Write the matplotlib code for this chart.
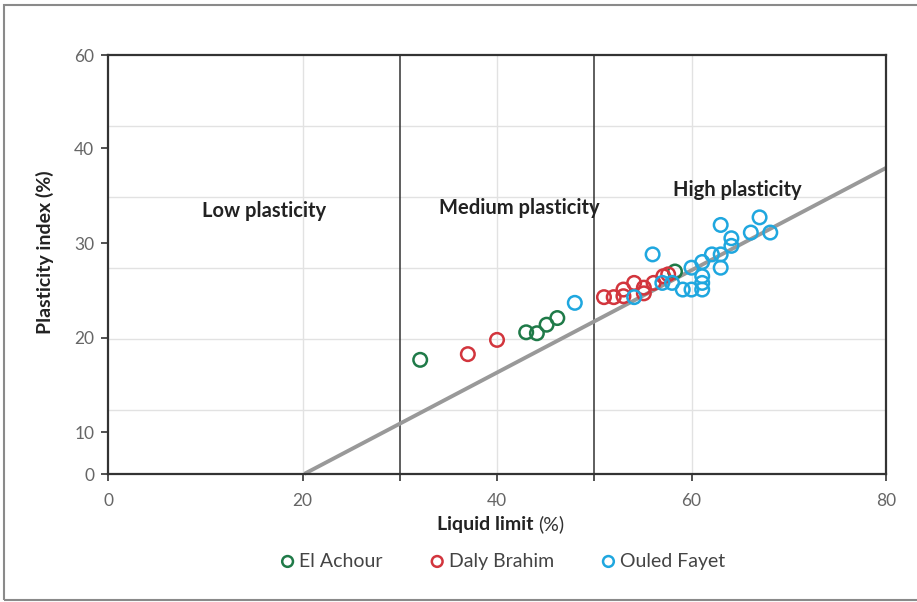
import matplotlib.pyplot as plt
from matplotlib.patches import Rectangle

# Liquid limit (%) / plasticity index (%)
el_achour_ll = [32.1, 43.0, 44.1, 45.1, 46.2, 58.3]
el_achour_pi = [17.7, 20.6, 20.5, 21.4, 22.1, 27.0]

daly_brahim_ll = [37.0, 40.0, 51.0, 52.0, 53.0, 53.0, 54.1, 55.1, 55.1, 56.1, 57.1, 57.6]
daly_brahim_pi = [18.3, 19.8, 24.3, 24.3, 25.1, 24.4, 25.8, 25.3, 24.7, 25.8, 26.5, 26.7]

ouled_fayet_ll = [48.0, 54.1, 56.0, 57.0, 58.0, 59.1, 60.0, 60.0, 61.1, 61.1, 61.1, 61.1,
                  62.1, 63.0, 63.0, 63.0, 64.1, 64.1, 66.1, 67.0, 68.1]
ouled_fayet_pi = [23.7, 24.3, 28.8, 25.8, 25.8, 25.1, 25.1, 27.4, 28.0, 26.5, 25.8, 25.1,
                  28.8, 28.8, 27.4, 31.9, 30.5, 29.7, 31.1, 32.7, 31.1]

# A-line as drawn
a_line_ll = [20.2, 80.0]
a_line_pi = [5.7, 37.9]

# y axis of the original is not uniform: tick labels sit at these heights
ytick_pos = [5.68, 10.1, 20, 30, 40, 49.79]
ytick_labels = ['0', '10', '20', '30', '40', '60']
xtick_pos = [0, 20, 30, 40, 50, 60, 80]
xtick_labels = ['0', '20', '', '40', '', '60', '80']
hgrid = [12.42, 19.9, 27.37, 34.84, 42.3]

zones = ['Low plasticity', 'Medium plasticity', 'High plasticity']
zone_x = [16.0, 42.3, 64.7]
zone_y = [33.4, 33.7, 35.6]

green = '#1f7a48'
red = '#d2353d'
blue = '#1fa7df'

plt.rcParams['font.family'] = ['Lato', 'DejaVu Sans']

fig = plt.figure(figsize=(9.17, 6.02), dpi=100)
ax = fig.add_axes([0.1178, 0.2126, 0.8484, 0.696])

# frame around the whole picture
fig.patches.append(Rectangle((0.004, 0.004), 1.1, 0.988, transform=fig.transFigure,
                             fill=False, edgecolor='#8a8a8a', linewidth=1.5))

for y in hgrid:
    ax.axhline(y, color='#e2e2e2', lw=1.0, zorder=0)
for x in [20, 40, 60]:
    ax.axvline(x, color='#e2e2e2', lw=1.0, zorder=0)
for x in [30, 50]:
    ax.axvline(x, color='#333333', lw=1.1, zorder=1)

ax.plot(a_line_ll, a_line_pi, color='#999999', lw=2.8, solid_capstyle='butt', zorder=2, clip_on=False)

ms = 95
ax.scatter(el_achour_ll, el_achour_pi, s=ms, facecolors='none', edgecolors=green, linewidths=1.8, zorder=3)
ax.scatter(daly_brahim_ll, daly_brahim_pi, s=ms, facecolors='none', edgecolors=red, linewidths=1.8, zorder=4)
ax.scatter(ouled_fayet_ll, ouled_fayet_pi, s=ms, facecolors='none', edgecolors=blue, linewidths=1.8, zorder=5)

for name, x, y in zip(zones, zone_x, zone_y):
    ax.text(x, y, name, ha='center', va='center', fontsize=14.5, fontweight='bold', color='#222222')

ax.set_xlim(0, 80)
ax.set_ylim(ytick_pos[0], ytick_pos[-1])
ax.set_xticks(xtick_pos)
ax.set_xticklabels(xtick_labels)
ax.set_yticks(ytick_pos)
ax.set_yticklabels(ytick_labels)
ax.tick_params(axis='both', direction='out', length=5, width=1.2, colors='#333333',
               labelcolor='#666666', labelsize=12.5)
ax.tick_params(axis='x', pad=9)
ax.tick_params(axis='y', pad=5)

for sp in ax.spines.values():
    sp.set_color('#333333')
    sp.set_linewidth(1.6)

fig.text(0.049, 0.581, 'Plasticity index (%)', rotation=90, ha='center', va='center',
         fontsize=14, fontweight='bold', color='#222222')
fig.text(0.582, 0.129, 'Liquid limit', ha='right', va='center', fontsize=14,
         fontweight='bold', color='#222222')
fig.text(0.587, 0.129, '(%)', ha='left', va='center', fontsize=14, color='#333333')

h1 = ax.scatter([], [], s=60, facecolors='none', edgecolors=green, linewidths=1.8)
h2 = ax.scatter([], [], s=60, facecolors='none', edgecolors=red, linewidths=1.8)
h3 = ax.scatter([], [], s=60, facecolors='none', edgecolors=blue, linewidths=1.8)
leg = fig.legend([h1, h2, h3], ['El Achour', 'Daly Brahim', 'Ouled Fayet'], loc='center',
                 bbox_to_anchor=(0.548, 0.068), ncol=3, frameon=False, fontsize=14,
                 handletextpad=0.2, columnspacing=2.4, handlelength=0.8)
for t in leg.get_texts():
    t.set_color('#444444')

fig.savefig('out.png', dpi=100)
